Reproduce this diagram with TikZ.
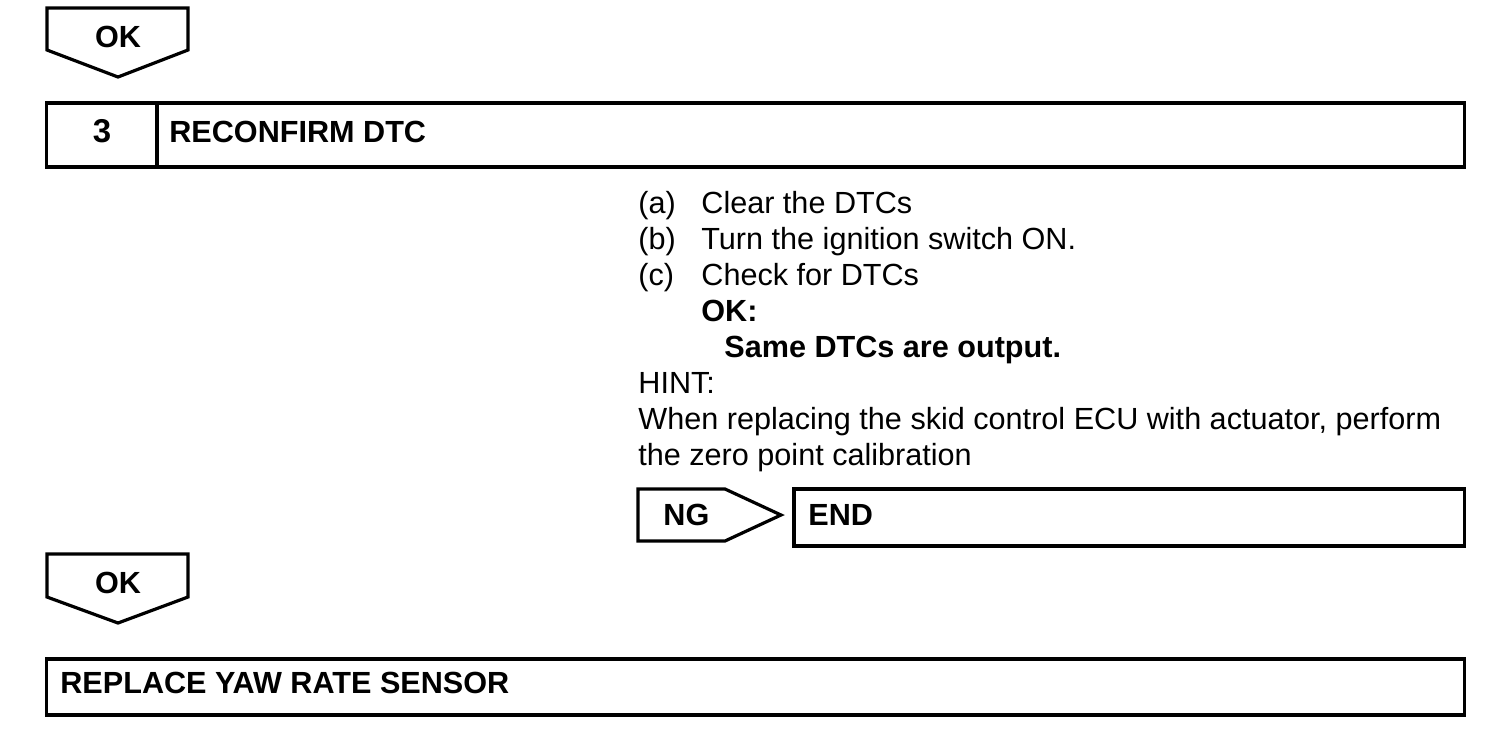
\documentclass[tikz,border=0pt]{standalone}
\usepackage{fontspec}
\setmainfont{Liberation Sans}
\usetikzlibrary{positioning}

\begin{document}
\fontsize{15.3pt}{18pt}\selectfont
\begin{tikzpicture}[
		x=0.5pt, y=-0.5pt,
		frame/.style={line width=1.6pt, line join=miter},
		txt/.style={anchor=base west, inner sep=0pt},
		boldtxt/.style={txt, font=\bfseries},
		centtxt/.style={anchor=base, inner sep=0pt, font=\bfseries}
	]
	\useasboundingbox (0,0) rectangle (1504,746);

	% OK arrow on top
	\draw[frame] (47,8) -- (188,8) -- (188,50) -- (118,77) -- (47,50) -- cycle;
	\node[centtxt] (oka) at (118,47) {OK};

	% step 3
	\draw[frame] (46.5,103) rectangle (1464.5,167);
	\draw[frame] (157,103) -- (157,167);
	\node[centtxt, font=\fontsize{16.5pt}{18pt}\bfseries] (stepnum) at (102,142) {3};
	\node[boldtxt] (steptitle) at (169,142) {RECONFIRM DTC};

	\node[txt] (la) at (638,213) {(a)};
	\node[txt] (ta) at (701,213) {Clear the DTCs};
	\node[txt] (lb) at (638,249) {(b)};
	\node[txt] (tb) at (701,249) {Turn the ignition switch ON.};
	\node[txt] (lc) at (638,285) {(c)};
	\node[txt] (tc) at (701,285) {Check for DTCs};
	\node[boldtxt] (okhead) at (701,321) {OK:};
	\node[boldtxt] (okres) at (724,357) {Same DTCs are output.};
	\node[txt] (hint) at (638,393) {HINT:};
	\node[txt] (hinta) at (638,429) {When replacing the skid control ECU with actuator, perform};
	\node[txt] (hintb) at (638,465) {the zero point calibration};

	% NG branch
	\draw[frame] (638,489) -- (725,489) -- (781,515) -- (725,541) -- (638,541) -- cycle;
	\node[boldtxt] (ng) at (663,525) {NG};
	\draw[frame] (794,489) rectangle (1464.5,546);
	\node[boldtxt] (endbox) at (808,525) {END};

	% OK arrow below
	\draw[frame] (47,554) -- (188,554) -- (188,597) -- (118,623) -- (47,597) -- cycle;
	\node[centtxt] (okb) at (118,593) {OK};

	\draw[frame] (46.5,659) rectangle (1464.5,715);
	\node[boldtxt] (replace) at (60,693) {REPLACE YAW RATE SENSOR};
\end{tikzpicture}
\end{document}
